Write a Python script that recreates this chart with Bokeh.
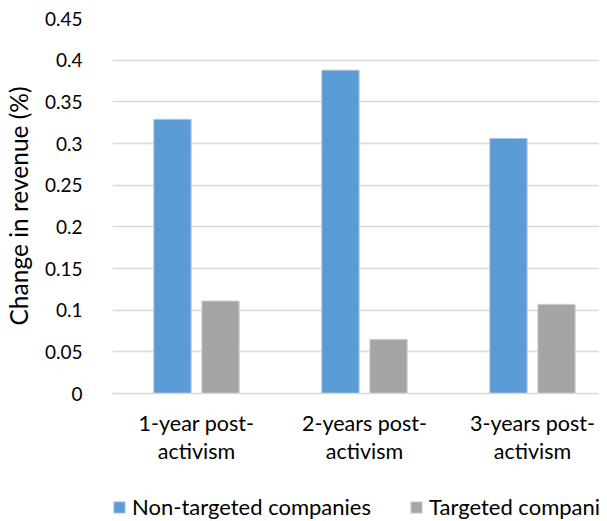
import numpy as np
from bokeh.plotting import figure
from bokeh.layouts import column
from bokeh.models import (Range1d, FixedTicker, Legend, LegendItem, ColumnDataSource)
from bokeh.transform import dodge
from bokeh.embed import file_html
from bokeh.resources import INLINE

categories = ["1-year post-\nactivism", "2-years post-\nactivism", "3-years post-\nactivism"]
series_names = ["Non-targeted companies", "Targeted companies"]
non_targeted = [0.329, 0.388, 0.306]
targeted = [0.111, 0.065, 0.107]
y_ticks = [0, 0.05, 0.1, 0.15, 0.2, 0.25, 0.3, 0.35, 0.4, 0.45]
y_tick_labels = ["0", "0.05", "0.1", "0.15", "0.2", "0.25", "0.3", "0.35", "0.4", "0.45"]

FONT = "Lato"
BLUE, BLUE_EDGE = "#5B9BD5", "#a9c9ea"
GREY, GREY_EDGE = "#A5A5A5", "#d0d0d0"

xi = (np.arange(len(categories)) + 0.5).tolist()
src = ColumnDataSource(dict(x=xi, a=non_targeted, b=targeted))

p = figure(frame_width=487, frame_height=375, output_backend="svg", toolbar_location=None,
           x_range=Range1d(0, 2.899), y_range=Range1d(0, 0.45),
           min_border_left=104, min_border_top=18, min_border_right=0, min_border_bottom=80)
p.outline_line_color = None
p.background_fill_color = "white"

r1 = p.vbar(x=dodge("x", -0.143, range=p.x_range), top="a", width=0.222, source=src,
            fill_color=BLUE, line_color=BLUE_EDGE, line_width=1)
r2 = p.vbar(x=dodge("x", 0.143, range=p.x_range), top="b", width=0.222, source=src,
            fill_color=GREY, line_color=GREY_EDGE, line_width=1)

# axes
p.xaxis.ticker = FixedTicker(ticks=xi)
p.xaxis.major_label_overrides = {x: c for x, c in zip(xi, categories)}
p.xaxis.major_tick_line_color = None
p.xaxis.minor_tick_line_color = None
p.xaxis.axis_line_color = "#d9d9d9"
p.xaxis.axis_line_width = 1.5
p.xaxis.major_label_text_font = FONT
p.xaxis.major_label_text_font_size = "21.5px"
p.xaxis.major_label_text_color = "#000000"
p.xaxis.major_label_standoff = 10
p.xaxis.major_label_text_line_height = 1.08

p.yaxis.ticker = FixedTicker(ticks=y_ticks)
p.yaxis.major_label_overrides = {t: l for t, l in zip(y_ticks, y_tick_labels)}
p.yaxis.axis_line_color = None
p.yaxis.major_tick_line_color = None
p.yaxis.minor_tick_line_color = None
p.yaxis.major_label_text_font = FONT
p.yaxis.major_label_text_font_size = "19px"
p.yaxis.major_label_text_color = "#000000"
p.yaxis.major_label_standoff = 24
p.yaxis.axis_label = "Change in revenue (%)"
p.yaxis.axis_label_text_font = FONT
p.yaxis.axis_label_text_font_size = "24.5px"
p.yaxis.axis_label_text_font_style = "normal"
p.yaxis.axis_label_text_color = "#000000"
p.yaxis.axis_label_standoff = 9

p.xgrid.grid_line_color = None
p.ygrid.grid_line_color = "#d9d9d9"
p.ygrid.grid_line_width = 1.5

# legend strip below the chart (its bars sit outside its visible ranges; only the legend shows)
lf = figure(width=599, height=48, output_backend="svg", toolbar_location=None,
            min_border_left=46, min_border_right=0, min_border_top=20, min_border_bottom=0,
            x_range=Range1d(100, 101), y_range=Range1d(100, 101))
lf.outline_line_color = None
lf.xaxis.visible = False
lf.yaxis.visible = False
lf.grid.visible = False
l1 = lf.vbar(x="x", top="a", width=0.2, source=src, fill_color=BLUE, line_color=BLUE_EDGE)
l2 = lf.vbar(x="x", top="b", width=0.2, source=src, fill_color=GREY, line_color=GREY_EDGE)
legend = Legend(items=[LegendItem(label=series_names[0], renderers=[l1]),
                       LegendItem(label=series_names[1], renderers=[l2])],
                orientation="horizontal", location="top_left",
                border_line_alpha=0, background_fill_alpha=0,
                label_text_font=FONT, label_text_font_size="22px", label_text_color="#000000",
                glyph_width=14, glyph_height=14, spacing=38, label_standoff=6,
                padding=0, margin=0)
lf.add_layout(legend, "center")

layout = column(p, lf, spacing=0)
open("out.html", "w").write(file_html(layout, INLINE))
